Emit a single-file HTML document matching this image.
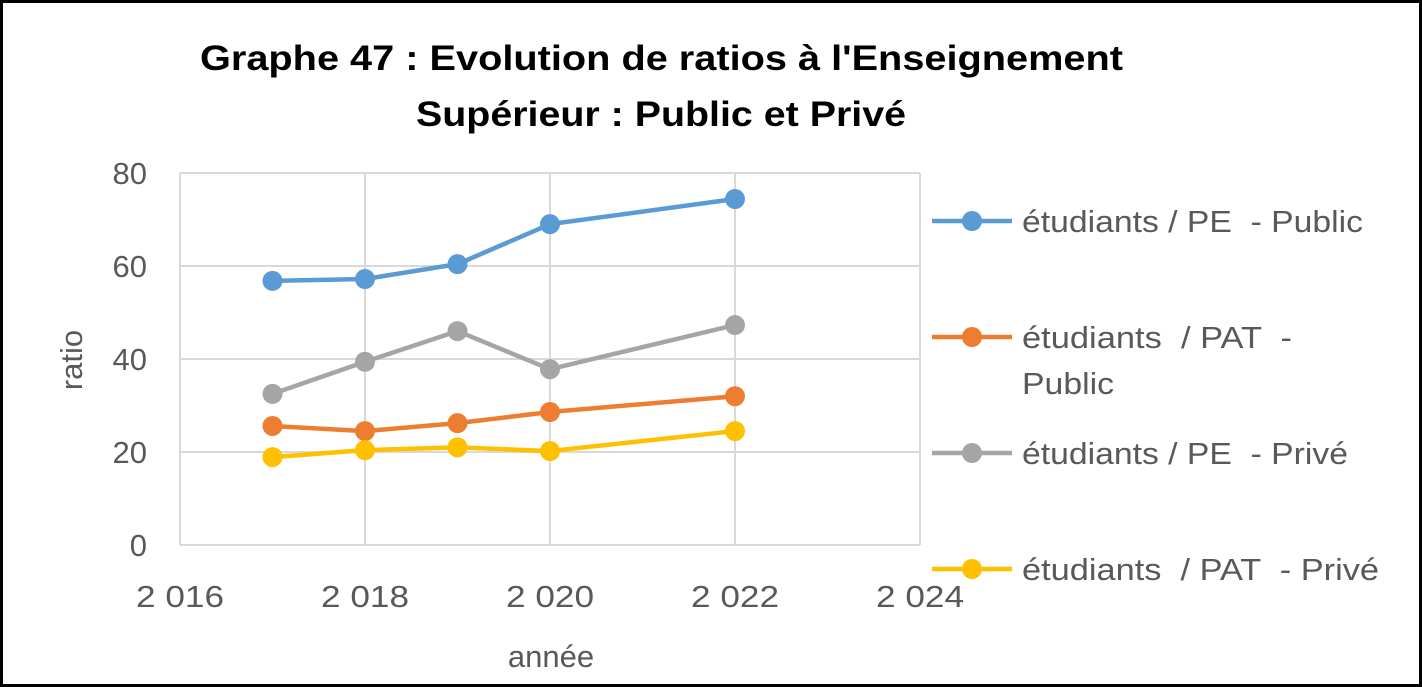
<!DOCTYPE html>
<html><head><meta charset="utf-8"><style>
body{margin:0;background:#fff;}
svg{display:block;font-family:"Liberation Sans",sans-serif;}
text{white-space:pre;}
</style></head><body>
<svg id="chart" width="1422" height="687" viewBox="0 0 1422 687">
<rect x="1.5" y="1.5" width="1419" height="684" fill="#fff" stroke="#000" stroke-width="3"/>
<text x="200" y="70" textLength="923" lengthAdjust="spacingAndGlyphs" font-size="35" font-weight="bold">Graphe 47 : Evolution de ratios à l'Enseignement</text>
<text x="416" y="126" textLength="490" lengthAdjust="spacingAndGlyphs" font-size="35" font-weight="bold">Supérieur : Public et Privé</text>
<g id="grid"></g><g id="axes"></g><g id="series"></g><g id="legend"></g>
<text x="82" y="360" text-anchor="middle" font-size="31" fill="#595959" transform="rotate(-90 82 360)">ratio</text>
<text x="551" y="667" text-anchor="middle" font-size="31" fill="#595959">année</text>
</svg>
<script>
const years=[2017,2018,2019,2020,2022];
const pePublic=[56.8,57.2,60.4,69,74.4];
const patPublic=[25.6,24.5,26.2,28.6,32];
const pePrive=[32.5,39.4,46,37.8,47.3];
const patPrive=[18.9,20.4,21,20.2,24.5];
const xTicks=[2016,2018,2020,2022,2024];
const xTickLabels=["2 016","2 018","2 020","2 022","2 024"];
const yTicks=[0,20,40,60,80];
const seriesNames=["étudiants / PE  - Public","étudiants  / PAT  - Public","étudiants / PE  - Privé","étudiants  / PAT  - Privé"];
const NS="http://www.w3.org/2000/svg";
const X=v=>180+(v-2016)*(740/8);
const Y=v=>545-v*(372/80);
function mk(tag,attrs,parent,text){const e=document.createElementNS(NS,tag);for(const k in attrs)e.setAttribute(k,attrs[k]);if(text!=null)e.textContent=text;parent.appendChild(e);return e;}
const grid=document.getElementById('grid'),axes=document.getElementById('axes'),ser=document.getElementById('series'),leg=document.getElementById('legend');
yTicks.forEach(t=>{
  const l=mk('line',{x1:180,x2:920,y1:Y(t),y2:Y(t),stroke:'#d9d9d9','stroke-width':2},grid);
  
  
  const tx=mk('text',{x:147,y:Y(t)+11,'text-anchor':'end','font-size':31,fill:'#595959'},axes,String(t));
  
  
});
xTicks.forEach((t,i)=>{
  const l=mk('line',{x1:X(t),x2:X(t),y1:Y(80),y2:Y(0),stroke:'#d9d9d9','stroke-width':2},grid);
  
  
  const tx=mk('text',{x:X(t),y:607,'text-anchor':'middle','font-size':31,fill:'#595959',textLength:88,lengthAdjust:'spacingAndGlyphs'},axes,xTickLabels[i]);
  
  
});
const data=[pePublic,patPublic,pePrive,patPrive];
const colors=["#5b9bd5","#ed7d31","#a5a5a5","#ffc000"];
const order=[2,1,3,0];
order.forEach(s=>{
  const g=mk('g',{},ser);
  
  
  const pl=mk('polyline',{points:years.map((y,i)=>X(y)+','+Y(data[s][i])).join(' '),fill:'none',stroke:colors[s],'stroke-width':4.5,'stroke-linejoin':'round'},g);
  
  
  years.forEach((y,i)=>{
    const c=mk('circle',{cx:X(y),cy:Y(data[s][i]),r:10,fill:colors[s]},g);
    
    
  });
});
const legY=[221,337,453,569];
const legW=[341,270,326,357];
seriesNames.forEach((n,s)=>{
  const g=mk('g',{},leg);
  
  
  mk('line',{x1:932,x2:1012,y1:legY[s],y2:legY[s],stroke:colors[s],'stroke-width':4.5},g);
  mk('circle',{cx:972,cy:legY[s],r:10,fill:colors[s]},g);
  if(s===1){
    mk('text',{x:1022,y:legY[s]+11,'font-size':31,fill:'#595959',textLength:270,lengthAdjust:'spacingAndGlyphs'},g,'étudiants  / PAT  -');
    mk('text',{x:1022,y:legY[s]+57,'font-size':31,fill:'#595959',textLength:92,lengthAdjust:'spacingAndGlyphs'},g,'Public');
  } else mk('text',{x:1022,y:legY[s]+11,'font-size':31,fill:'#595959',textLength:legW[s],lengthAdjust:'spacingAndGlyphs'},g,n);
});
</script>
</body></html>
